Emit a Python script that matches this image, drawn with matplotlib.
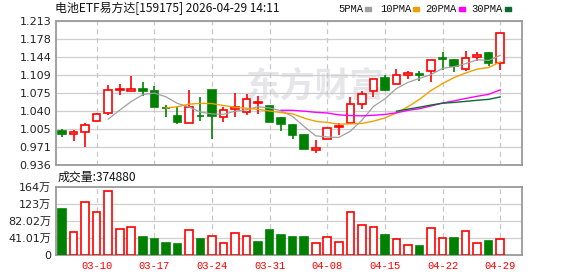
import matplotlib
matplotlib.use("Agg")
import matplotlib.pyplot as plt
import numpy as np
import pandas as pd

plt.rcParams['font.family'] = ['DejaVu Sans', 'Noto Sans CJK SC']

# ---------------- data ----------------
dates = ['03-05', '03-06', '03-09', '03-10', '03-11', '03-12', '03-13', '03-16', '03-17', '03-18',
         '03-19', '03-20', '03-23', '03-24', '03-25', '03-26', '03-27', '03-30', '03-31', '04-01',
         '04-02', '04-03', '04-07', '04-08', '04-09', '04-10', '04-13', '04-14', '04-15', '04-16',
         '04-17', '04-20', '04-21', '04-22', '04-23', '04-24', '04-27', '04-28', '04-29']
opens = [1.002, 0.9955, 0.999, 1.0205, 1.036, 1.0805, 1.078, 1.082, 1.079, 1.046,
         1.030, 1.0165, 1.031, 1.0805, 1.029, 1.0435, 1.037, 1.055, 1.049, 1.027,
         1.013, 0.994, 0.965, 0.986, 1.009, 1.0165, 1.053, 1.078, 1.103, 1.0915,
         1.1085, 1.111, 1.116, 1.142, 1.138, 1.120, 1.1435, 1.151, 1.132]
closes = [0.995, 0.999, 1.013, 1.034, 1.080, 1.0818, 1.082, 1.079, 1.0485, 1.045,
          1.018, 1.0485, 1.0295, 1.0297, 1.0415, 1.0485, 1.063, 1.0575, 1.018, 1.014,
          0.993, 0.967, 0.9685, 1.007, 1.0095, 1.053, 1.072, 1.101, 1.081, 1.1085,
          1.1125, 1.110, 1.1375, 1.1405, 1.1255, 1.141, 1.147, 1.132, 1.189]
highs = [1.005, 1.004, 1.017, 1.036, 1.0895, 1.092, 1.107, 1.096, 1.088, 1.051,
         1.047, 1.0805, 1.0665, 1.0805, 1.047, 1.074, 1.073, 1.069, 1.050, 1.028,
         1.015, 0.9955, 0.9845, 1.0075, 1.0165, 1.0665, 1.0785, 1.101, 1.109, 1.121,
         1.116, 1.117, 1.1375, 1.153, 1.1395, 1.155, 1.153, 1.1535, 1.189]
lows = [0.989, 0.983, 0.970, 1.0205, 1.033, 1.070, 1.078, 1.068, 1.0485, 1.0275,
        1.014, 1.0165, 1.020, 0.986, 1.0185, 1.029, 1.0325, 1.035, 1.018, 1.0005,
        0.986, 0.966, 0.960, 0.986, 0.993, 1.0165, 1.0435, 1.0665, 1.0775, 1.0915,
        1.102, 1.0985, 1.0965, 1.119, 1.114, 1.116, 1.1355, 1.1255, 1.119]
volumes = [111, 55.5, 128, 104, 154, 62.7, 66.7, 43.4, 39.4, 29,
           26.5, 59.5, 39.4, 45, 28, 52, 45, 31.4, 60.3, 48.2,
           43.4, 43.4, 28, 42.6, 30.5, 103, 71.6, 66.7, 48.2, 38.6,
           23.3, 21.7, 64.3, 40.2, 41, 57.9, 28, 33.8, 37.488]  # 万

ma_periods = [5, 10, 20, 30]
ma_names = ['5PMA', '10PMA', '20PMA', '30PMA']
ma_colors = ['#a0a0a0', '#f0a000', '#ff00ff', '#0a6b32']

xtick_dates = ['03-10', '03-17', '03-24', '03-31', '04-08', '04-15', '04-22', '04-29']
price_ticks = ['0.936', '0.971', '1.005', '1.040', '1.075', '1.109', '1.144', '1.178', '1.213']
price_min, price_max = 0.936, 1.213
vol_ticks = ['0', '41.01万', '82.02万', '123万', '164万']
vol_max = 164.04
title = '电池ETF易方达[159175] 2026-04-29 14:11'
vol_label = '成交量:374880'

# ---------------- figure ----------------
W, H = 578, 276
fig = plt.figure(figsize=(W / 100, H / 100), dpi=100)
RED = '#ff0000'
GREEN = '#008000'
GRID = '#cfcfcf'
SPINE = '#9a9a9a'


def fx(px):
    return px / W


def fy(py):
    return 1 - py / H


ax = fig.add_axes([fx(55.5), fy(165), fx(522) - fx(55.5), fy(21) - fy(165)])
axv = fig.add_axes([fx(55.5), fy(255), fx(522) - fx(55.5), fy(187) - fy(255)])

n = len(dates)
x = np.arange(n)
o = np.array(opens)
c = np.array(closes)
h = np.array(highs)
l = np.array(lows)
up = c >= o
bw = 0.66

xlim = (-0.57, 39.89)
tick_idx = [dates.index(d) for d in xtick_dates]

# watermark
ax.text(22.0, 1.0875, '东方财富', fontsize=25, fontweight='bold', color='#e6e6ea',
        ha='center', va='center', zorder=0, family=['Noto Sans CJK SC'])

# grid
pt = np.linspace(price_min, price_max, len(price_ticks))
for yv in pt:
    ax.axhline(yv, color=GRID, lw=0.9, zorder=1)
for ti in tick_idx:
    ax.axvline(ti, color='#c8c8c8', lw=0.9, ls=(0, (4, 3)), zorder=1)

# candles
top = np.maximum(o, c)
bot = np.minimum(o, c)
hgt = np.maximum(top - bot, 0.0012)
for i in range(n):
    col = RED if up[i] else GREEN
    ax.vlines(x[i], top[i], h[i], color=col, lw=1.2, zorder=3)
    ax.vlines(x[i], l[i], bot[i], color=col, lw=1.2, zorder=3)
ax.bar(x, hgt, bottom=bot, width=bw,
       color=['white' if u else GREEN for u in up],
       edgecolor=[RED if u else GREEN for u in up], linewidth=1.2, zorder=4)

# moving averages
cs = pd.Series(closes)
for p, col in zip(ma_periods, ma_colors):
    ma = cs.rolling(p).mean()
    ax.plot(x, ma.values, color=col, lw=1.0 if p > 5 else 0.9, zorder=5)

ax.set_xlim(*xlim)
ax.set_ylim(price_min, price_max)
ax.set_yticks(pt)
ax.set_yticklabels(price_ticks)
ax.set_xticks([])
ax.tick_params(axis='y', length=0, pad=3, labelsize=8, labelcolor='#222222')

# volume
prev = np.concatenate([[o[0]], c[:-1]])
vup = c >= prev
vt = np.linspace(0, vol_max, len(vol_ticks))
for yv in vt[1:-1]:
    axv.axhline(yv, color=GRID, lw=0.9, zorder=1)
for ti in tick_idx:
    axv.axvline(ti, color='#c8c8c8', lw=0.9, ls=(0, (4, 3)), zorder=1)
axv.bar(x, volumes, width=bw,
        color=['white' if u else GREEN for u in vup],
        edgecolor=[RED if u else GREEN for u in vup], linewidth=1.2, zorder=3)
axv.set_xlim(*xlim)
axv.set_ylim(0, vol_max)
axv.set_yticks(vt)
axv.set_yticklabels(vol_ticks)
axv.set_xticks(tick_idx)
axv.set_xticklabels(xtick_dates, family=['Liberation Mono'], fontsize=7.6, color=RED)
axv.tick_params(axis='y', length=0, pad=3, labelsize=8, labelcolor='#222222')
axv.tick_params(axis='x', length=0, pad=4)

for a in (ax, axv):
    for s in a.spines.values():
        s.set_color(SPINE)
        s.set_linewidth(1.3)

# title & legend
fig.text(fx(55), fy(8.5), title, fontsize=8.6, ha='left', va='center',
         family=['Noto Sans CJK SC'], color='#111111')
leg_x = [338, 380, 425.5, 471.5]
for name, col, lx in zip(ma_names, ma_colors, leg_x):
    t = fig.text(fx(lx), fy(9), name, fontsize=7.6, ha='left', va='center',
                 family=['Liberation Mono'], color='#111111')
    sq_x = lx + 6.0 * len(name) + 3
    fig.patches.append(plt.Rectangle((fx(sq_x), fy(10.5)), fx(6), 3.5 / H,
                                     transform=fig.transFigure, color=col, figure=fig))

fig.text(fx(57.5), fy(177), vol_label, fontsize=8.6, ha='left', va='center',
         family=['Noto Sans CJK SC'], color='#111111')

fig.savefig('out.png', dpi=100)
